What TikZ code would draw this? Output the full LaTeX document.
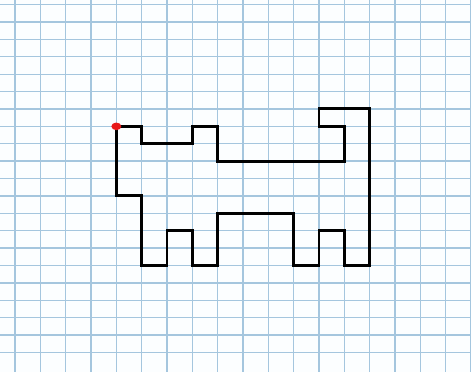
\documentclass[tikz,border=0pt]{standalone}
\usetikzlibrary{positioning}
\definecolor{GridBlue}{RGB}{165,198,222}
\definecolor{PaperWhite}{RGB}{252,254,255}
\definecolor{PenRed}{RGB}{232,24,24}
\tikzset{
  gridline/.style={draw=GridBlue,line width=0.9pt},
  outline/.style={draw=black,line width=2pt,line join=miter},
  startdot/.style={fill=PenRed}
}

\begin{document}
\begin{tikzpicture}[x=0.6cm,y=-0.412cm]
  % paper and frame
  \fill[PaperWhite] (-0.592,-0.264) rectangle (18.0,21.115);
  \useasboundingbox (-0.592,-0.264) rectangle (18.0,21.115);
  \foreach \k in {0,...,18}
    \draw[gridline] (\k,-0.264) -- (\k,21.115);
  \foreach \j in {0,...,20}
    \draw[gridline] (-0.592,\j) -- (18.0,\j);
  % the cat shape
  \draw[outline] (4,7) -- (5,7) -- (5,8) -- (7,8) -- (7,7) -- (8,7)
    -- (8,9) -- (13,9) -- (13,7) -- (12,7) -- (12,6) -- (14,6)
    -- (14,15) -- (13,15) -- (13,13) -- (12,13) -- (12,15) -- (11,15)
    -- (11,12) -- (8,12) -- (8,15) -- (7,15) -- (7,13) -- (6,13)
    -- (6,15) -- (5,15) -- (5,11) -- (4,11) -- cycle;
  % start point
  \coordinate (start) at (4,7);
  \fill[startdot] (start) ellipse [x radius=0.118cm,y radius=0.09cm];
\end{tikzpicture}
\end{document}
